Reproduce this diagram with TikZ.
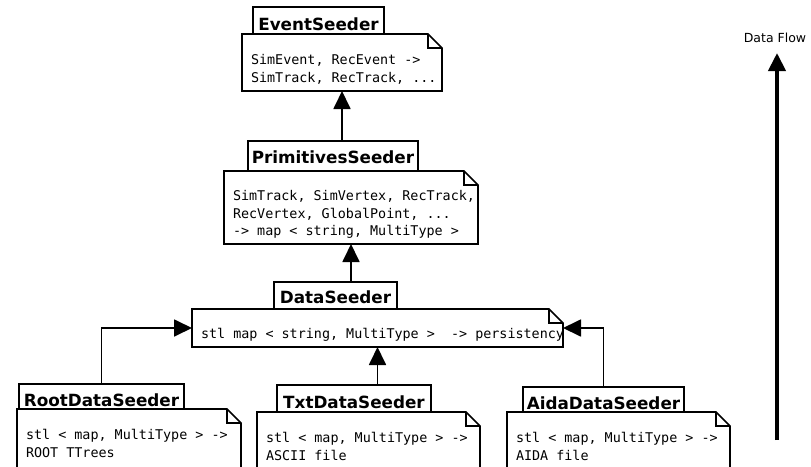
\documentclass[tikz,border=0pt]{standalone}
\usepackage{fontspec}
\setmainfont{DejaVu Sans}
\setmonofont{DejaVu Sans Mono}
\usetikzlibrary{arrows.meta}

\tikzset{
	tab/.style={draw, line width=1.6pt, inner xsep=0pt, inner ysep=0pt, outer sep=0pt, anchor=north west,
		font=\bfseries\fontsize{16.8}{20}\selectfont},
	note/.style={inner xsep=9pt, inner ysep=0pt, outer sep=0pt, anchor=north west, align=flush left,
		font=\ttfamily\fontsize{13.4}{17.5}\selectfont, execute at begin node={\spaceskip=0pt\xspaceskip=0pt}},
	flow/.style={line width=1.8pt, -{Triangle[width=17pt,length=18pt]}}
}

\begin{document}
\begin{tikzpicture}[x=1pt,y=-1pt]
	\clip (0,0) rectangle (811,466);
	\node[tab, minimum width=131pt, text height=23pt, text depth=4pt] (evtab) at (253,7) {EventSeeder};
	\node[note, text width=182pt, text height=30.5pt, text depth=26.5pt] (evnote) at (242,34)
		{SimEvent, RecEvent ->\\\mbox{SimTrack, RecTrack, ...}};
	\node[tab, minimum width=170pt, text height=22pt, text depth=8pt] (primtab) at (248,141) {PrimitivesSeeder};
	\node[note, text width=236pt, text height=29.5pt, text depth=43.5pt] (primnote) at (224,171)
		{\mbox{SimTrack, SimVertex, RecTrack,}\\RecVertex, GlobalPoint, ...\\-> map < string, MultiType >};
	\node[tab, minimum width=123pt, text height=21pt, text depth=6pt] (datatab) at (274,282) {DataSeeder};
	\node[note, text width=353pt, text height=29.5pt, text depth=8.5pt] (datanote) at (192,309)
		{\mbox{stl map < string, MultiType >\ \ -> persistency}};
	\node[tab, minimum width=165pt, text height=22pt, text depth=3pt] (roottab) at (19,384) {RootDataSeeder};
	\node[note, text width=206pt, text height=30.5pt, text depth=45pt] (rootnote) at (17,409)
		{\mbox{stl < map, MultiType > ->}\\ROOT TTrees};
	\node[tab, minimum width=154pt, text height=23pt, text depth=4pt] (txttab) at (277,385) {TxtDataSeeder};
	\node[note, text width=205pt, text height=30.5pt, text depth=40pt] (txtnote) at (257,412)
		{\mbox{stl < map, MultiType > ->}\\ASCII file};
	\node[tab, minimum width=161pt, text height=22pt, text depth=3pt] (aidatab) at (523,387) {AidaDataSeeder};
	\node[note, text width=205pt, text height=30.5pt, text depth=40pt] (aidanote) at (507,412)
		{\mbox{stl < map, MultiType > ->}\\AIDA file};
	\foreach \n in {evnote,primnote,datanote,rootnote,txtnote,aidanote}
		\draw[line width=1.6pt] (\n.north west) -- ([xshift=-14pt]\n.north east) -- ([yshift=-14pt]\n.north east)
			-- (\n.south east) -- (\n.south west) -- cycle
			([xshift=-14pt]\n.north east) |- ([yshift=-14pt]\n.north east);
	\draw[flow] (primtab.north -| evnote.south) -- (evnote.south);
	\draw[flow] (datatab.north -| primnote.south) -- (primnote.south);
	\draw[flow] (roottab.north) |- (datanote.west);
	\draw[flow] (txttab.north -| datanote.south) -- (datanote.south);
	\draw[flow] (aidatab.north) |- (datanote.east);
	\node[font=\fontsize{12.5}{15}\selectfont] (flowlabel) at (775,38) {Data Flow};
	\coordinate (flowbot) at (777,440);
	\coordinate (flowtop) at (777,53);
	\draw[line width=4pt, -{Triangle[width=17pt,length=18pt]}] (flowbot) -- (flowtop);
\end{tikzpicture}
\end{document}
